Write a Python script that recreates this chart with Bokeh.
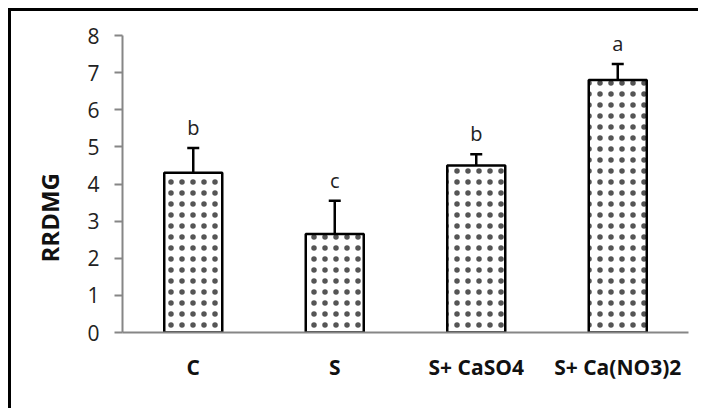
from bokeh.plotting import figure
from bokeh.models import (ColumnDataSource, Whisker, Range1d, FactorRange, LabelSet, Title,
                          FixedTicker, TeeHead)
from bokeh.core.properties import value
from bokeh.embed import file_html
from bokeh.resources import INLINE

categories = ["C", "S", "S+ CaSO4", "S+ Ca(NO3)2"]
means = [4.3, 2.65, 4.5, 6.8]
errors = [0.67, 0.9, 0.3, 0.43]
letters = ["b", "c", "b", "a"]
y_ticks = [0, 1, 2, 3, 4, 5, 6, 7, 8]
y_title = "RRDMG"

src = ColumnDataSource(dict(
    cat=categories,
    mean=means,
    upper=[m + e for m, e in zip(means, errors)],
    lower=[m - e for m, e in zip(means, errors)],
    letter=letters,
))

p = figure(width=690, height=400, output_backend="svg", toolbar_location=None,
           x_range=FactorRange(factors=categories, range_padding=0),
           y_range=Range1d(0, 8),
           min_border_left=110, min_border_right=13, min_border_top=24, min_border_bottom=79)
p.styles = {"border-left": "3px solid black", "border-top": "3px solid black",
            "margin-left": "8px", "margin-top": "8px"}
p.outline_line_color = None
p.xgrid.grid_line_color = None
p.ygrid.grid_line_color = None

p.vbar(x="cat", top="mean", bottom=0, width=0.41, source=src,
       fill_color="white", line_color="black", line_width=2.5,
       hatch_pattern="dot", hatch_color="#555555", hatch_scale=11, hatch_weight=1.0)

w = Whisker(base="cat", upper="upper", lower="lower", source=src,
            line_color="black", line_width=2.5)
w.upper_head = TeeHead(size=12, line_color="black", line_width=2.5)
w.lower_head = TeeHead(size=12, line_color="black", line_width=2.5)
p.add_layout(w)

labels = LabelSet(x="cat", y="upper", text="letter", source=src, y_offset=7,
                  text_align="center", text_baseline="bottom",
                  text_font=value("Open Sans"), text_font_size="20px", text_color="#222222")
p.add_layout(labels)

# y-axis title, placed like the original (a bit below the frame centre)
p.add_layout(Title(text=y_title, align="left", offset=70, standoff=38,
                   text_font="Open Sans", text_font_style="bold",
                   text_font_size="24px", text_color="#111111"), "left")

for ax in (p.xaxis[0], p.yaxis[0]):
    ax.axis_line_color = "#868686"
    ax.axis_line_width = 2
    ax.minor_tick_line_color = None

p.xaxis.major_tick_line_color = None
p.xaxis.major_tick_out = 0
p.xaxis.major_tick_in = 0
p.xaxis.major_label_standoff = 20
p.xaxis.major_label_text_font = "Open Sans"
p.xaxis.major_label_text_font_style = "bold"
p.xaxis.major_label_text_font_size = "21px"
p.xaxis.major_label_text_color = "#111111"

p.yaxis.ticker = FixedTicker(ticks=y_ticks)
p.yaxis.major_tick_line_color = "#868686"
p.yaxis.major_tick_line_width = 2
p.yaxis.major_tick_out = 8
p.yaxis.major_tick_in = 0
p.yaxis.major_label_standoff = 15
p.yaxis.major_label_text_font = "Open Sans"
p.yaxis.major_label_text_font_size = "21px"
p.yaxis.major_label_text_color = "#222222"

open("out.html", "w").write(file_html(p, INLINE))
